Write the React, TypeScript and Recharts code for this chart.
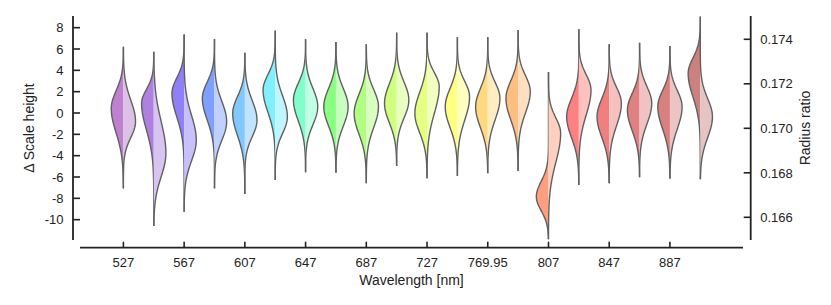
import { ComposedChart, Area, XAxis, YAxis } from "recharts";

const FONT = '"Liberation Sans", Arial, Helvetica, sans-serif';
const INK = "#222222";

// one violin per wavelength, left half = Δ scale height, right half = radius ratio
const wavelengths = [
  "527", "547", "567", "587", "607", "627", "647", "667", "687", "707",
  "727", "747", "769.95", "787", "807", "827", "847", "867", "887", "907",
];

// Δ scale height: peak, spread above / below peak, tail ends
const scaleMode = [0.44, 0.91, 1.85, 1.38, -0.03, 2.16, 1.22, 0.59, -0.03, 0.91, -0.03, 0.59, 0.59, 1.38, -7.85, -0.35, -0.35, 0.28, 0.59, 3.72];
const scaleUp = [1.63, 1.3, 1.43, 1.5, 1.57, 1.43, 1.56, 1.71, 1.77, 1.82, 1.96, 1.71, 1.71, 1.63, 1.43, 1.71, 1.71, 1.56, 1.51, 1.43];
const scaleDown = [2.28, 2.49, 2.21, 2.02, 2.09, 2.07, 1.95, 1.81, 1.94, 1.82, 1.82, 1.95, 1.95, 2.02, 1.3, 1.95, 1.95, 1.95, 2.08, 2.21];
const scaleMax = [6.22, 5.75, 7.38, 6.94, 5.65, 7.72, 6.91, 6.66, 6.44, 7.53, 7.53, 7.1, 7.1, 7.78, 3.84, 7.85, 6.44, 6.59, 6.28, 9.03];
const scaleMin = [-7.06, -10.59, -9.25, -7.06, -7.59, -6.28, -5.56, -5.6, -6.59, -4.97, -6.12, -5.91, -5.65, -5.44, -11.84, -6.75, -6.59, -6.03, -6.16, -6.22];

// radius ratio: same description
const ratioMode = [0.1703, 0.16888, 0.16947, 0.1703, 0.17037, 0.17052, 0.17097, 0.17097, 0.17097, 0.17127, 0.17187, 0.17142, 0.17135, 0.17165, 0.16978, 0.17172, 0.17112, 0.17112, 0.17097, 0.17052];
const ratioUp = [0.00097, 0.00143, 0.00112, 0.00091, 0.00088, 0.00094, 0.00082, 0.00082, 0.00078, 0.00081, 0.00063, 0.00069, 0.00072, 0.00072, 0.00069, 0.00069, 0.00072, 0.00076, 0.00073, 0.00082];
const ratioDown = [0.00072, 0.00106, 0.00094, 0.00084, 0.00075, 0.00075, 0.00081, 0.00087, 0.00094, 0.00081, 0.00119, 0.00105, 0.00097, 0.00096, 0.00131, 0.00112, 0.001, 0.00093, 0.001, 0.00094];
const ratioMax = [0.17367, 0.17344, 0.17422, 0.17401, 0.1734, 0.17439, 0.174, 0.17388, 0.17378, 0.1743, 0.1743, 0.17409, 0.17409, 0.17442, 0.17253, 0.17445, 0.17378, 0.17385, 0.1737, 0.17502];
const ratioMin = [0.1673, 0.16561, 0.16625, 0.1673, 0.16705, 0.16768, 0.16802, 0.16801, 0.16753, 0.16831, 0.16775, 0.16786, 0.16798, 0.16808, 0.16501, 0.16745, 0.16753, 0.1678, 0.16774, 0.16771];

const leftColors = [
  "#bf80cf", "#b080e0", "#9080f8", "#80a0ff", "#80c8ff", "#80f0ff", "#80ffcc", "#88ff80", "#b0ff80", "#d0ff80",
  "#e6ff80", "#ffff80", "#ffd880", "#ffbf80", "#ff9f80", "#ff8080", "#f08080", "#e08080", "#d88080", "#cc8080",
];
const rightColors = [
  "#dcc0e6", "#d8c4f0", "#c8c0fa", "#c0d0ff", "#c0e4ff", "#c0f6ff", "#c0ffe6", "#c8ffc0", "#d8ffc0", "#e8ffc0",
  "#f2ffc0", "#ffffc0", "#ffecc0", "#ffdfc0", "#ffcfc0", "#ffc0c0", "#f6c0c0", "#f0c2c2", "#ecc4c4", "#e6c4c4",
];

const scaleTicks = [-10, -8, -6, -4, -2, 0, 2, 4, 6, 8];
const ratioTicks = [0.166, 0.168, 0.17, 0.172, 0.174];
const xTicks = [0, 2, 4, 6, 8, 10, 12, 14, 16, 18];

const HALF = 0.4; // max half width in category units

function halfOutline(i: number, mode: number, up: number, down: number, lo: number, hi: number, side: number) {
  const pts: { y: number; x: number }[] = [];
  const n = 100;
  for (let k = 0; k <= n; k++) {
    const y = hi - ((hi - lo) * k) / n;
    const s = y > mode ? up : down;
    const z = (y - mode) / s;
    pts.push({ y, x: i + side * HALF * Math.exp(-0.5 * z * z) });
  }
  return pts;
}

function LeftTick({ x, y, payload }: any) {
  return (
    <g>
      <line x1={x} y1={y} x2={x + 7} y2={y} stroke={INK} strokeWidth={1.6} />
      <text x={x - 9.5} y={y + 4.7} textAnchor="end" fontSize={13} fontFamily={FONT} fill={INK}>
        {payload.value}
      </text>
    </g>
  );
}

function RightTick({ x, y, payload }: any) {
  return (
    <g>
      <line x1={x - 7} y1={y} x2={x} y2={y} stroke={INK} strokeWidth={1.6} />
      <text x={x + 9.5} y={y + 4.7} textAnchor="start" fontSize={13} fontFamily={FONT} fill={INK}>
        {Number(payload.value).toFixed(3)}
      </text>
    </g>
  );
}

function BottomTick({ x, y, payload }: any) {
  return (
    <g>
      <line x1={x} y1={y} x2={x} y2={y - 6} stroke={INK} strokeWidth={1.6} />
      <text x={x} y={y + 19.6} textAnchor="middle" fontSize={13} fontFamily={FONT} fill={INK}>
        {wavelengths[payload.value]}
      </text>
    </g>
  );
}

export default function App() {
  return (
    <div style={{ width: 815, height: 289 }}>
      <ComposedChart
        width={815}
        height={289}
        layout="vertical"
        margin={{ top: 8, right: 0, bottom: 0, left: 0 }}
      >
        <XAxis
          type="number"
          dataKey="x"
          domain={[-1.66, 20.66]}
          allowDataOverflow
          ticks={xTicks}
          interval={0}
          height={49.3}
          tickSize={0}
          tickMargin={0}
          tickLine={false}
          tick={<BottomTick />}
          axisLine={{ stroke: INK, strokeWidth: 1.8, strokeDasharray: "0 7 663 100" }}
          label={{
            content: () => (
              <text x={403.5} y={277} textAnchor="middle" fontSize={14} fontFamily={FONT} fill={INK}>
                Wavelength [nm]
              </text>
            ),
          }}
        />
        <YAxis
          yAxisId="left"
          orientation="left"
          type="number"
          dataKey="y"
          reversed
          domain={[-12.628, 9.094]}
          allowDataOverflow
          ticks={scaleTicks}
          interval={0}
          width={65}
          tickSize={0}
          tickMargin={0}
          tickLine={false}
          tick={<LeftTick />}
          axisLine={{ stroke: INK, strokeWidth: 1.8, strokeDasharray: "224 100" }}
          label={{
            content: () => (
              <text
                transform="translate(25.5,120) rotate(-90)"
                textAnchor="middle"
                fontSize={14}
                fontFamily={FONT}
                fill={INK}
              >
                Δ Scale height
              </text>
            ),
          }}
        />
        <YAxis
          yAxisId="right"
          orientation="right"
          type="number"
          dataKey="y"
          reversed
          domain={[0.164634, 0.175047]}
          allowDataOverflow
          ticks={ratioTicks}
          interval={0}
          width={72.3}
          tickSize={0}
          tickMargin={0}
          tickLine={false}
          tick={<RightTick />}
          axisLine={{ stroke: INK, strokeWidth: 1.8, strokeDasharray: "224 100" }}
          label={{
            content: () => (
              <text
                transform="translate(802,120) rotate(-90)"
                textAnchor="middle"
                fontSize={14}
                fontFamily={FONT}
                fill={INK}
              >
                Radius ratio
              </text>
            ),
          }}
        />
        {wavelengths.map((w, i) => (
          <Area
            key={"s" + w}
            yAxisId="left"
            data={halfOutline(i, scaleMode[i], scaleUp[i], scaleDown[i], scaleMin[i], scaleMax[i], -1)}
            dataKey="x"
            baseValue={i}
            type="linear"
            fill={leftColors[i]}
            fillOpacity={1}
            stroke="#606060"
            strokeWidth={1.4}
            dot={false}
            activeDot={false}
            isAnimationActive={false}
          />
        ))}
        {wavelengths.map((w, i) => (
          <Area
            key={"r" + w}
            yAxisId="right"
            data={halfOutline(i, ratioMode[i], ratioUp[i], ratioDown[i], ratioMin[i], ratioMax[i], 1)}
            dataKey="x"
            baseValue={i}
            type="linear"
            fill={rightColors[i]}
            fillOpacity={1}
            stroke="#606060"
            strokeWidth={1.4}
            dot={false}
            activeDot={false}
            isAnimationActive={false}
          />
        ))}
      </ComposedChart>
    </div>
  );
}
